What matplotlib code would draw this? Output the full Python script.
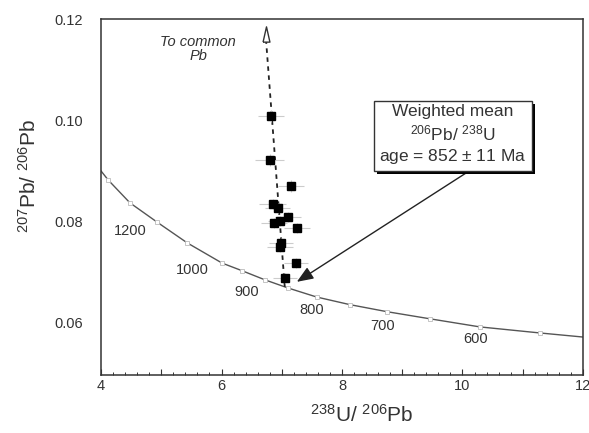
import matplotlib
matplotlib.use("Agg")
import matplotlib.pyplot as plt
import matplotlib.patheffects as pe
from matplotlib.ticker import MultipleLocator, FuncFormatter

plt.rcParams['font.family'] = ['Liberation Sans', 'DejaVu Sans']
plt.rcParams['mathtext.fontset'] = 'custom'
plt.rcParams['mathtext.rm'] = 'Liberation Sans'
plt.rcParams['mathtext.it'] = 'Liberation Sans:italic'

# concordia curve (Tera-Wasserburg)
conc_ages = [1400, 1300, 1200, 1100, 1000, 950, 900, 850, 800, 750, 700, 650, 600, 550]
conc_x = [4.12, 4.48, 4.93, 5.43, 6.01, 6.34, 6.72, 7.10, 7.58, 8.13, 8.75, 9.46, 10.29, 11.29]
conc_y = [0.0882, 0.0837, 0.0799, 0.0758, 0.0718, 0.0703, 0.0685, 0.0669, 0.0651, 0.0636,
          0.0622, 0.0608, 0.0592, 0.0580]
curve_x = [4.0] + conc_x + [12.0]
curve_y = [0.0900] + conc_y + [0.0572]

# age labels on the concordia
age_labels = ['1200', '1000', '900', '800', '700', '600']
age_lab_x = [4.48, 5.51, 6.42, 7.49, 8.68, 10.21]
age_lab_y = [0.0782, 0.0705, 0.0661, 0.0626, 0.0594, 0.0568]

# analyses
pt_x = [6.82, 6.80, 7.15, 6.85, 6.93, 7.10, 6.87, 6.97, 7.25, 6.98, 6.97, 7.23, 7.05]
pt_y = [0.1009, 0.0922, 0.0870, 0.0835, 0.0827, 0.0809, 0.0797, 0.0801, 0.0788,
        0.0758, 0.0750, 0.0718, 0.0689]
pt_xerr = [0.22, 0.24, 0.22, 0.22, 0.20, 0.22, 0.22, 0.20, 0.22, 0.20, 0.22, 0.20, 0.20]
pt_yerr = [0.0012, 0.0012, 0.0012, 0.0010, 0.0010, 0.0010, 0.0010, 0.0010, 0.0010,
           0.0010, 0.0010, 0.0010, 0.0010]

# regression line to common Pb
reg_x = [7.05, 6.74]
reg_y = [0.0671, 0.1157]

fig = plt.figure(figsize=(5.89, 4.33), dpi=100)
ax = fig.add_axes([0.1715, 0.1339, 0.8183, 0.8222])

txt = '#333333'

ax.plot(curve_x, curve_y, color='#555555', lw=1.0, zorder=2)
ax.plot(conc_x, conc_y, ls='none', marker='s', ms=3, mfc='white', mec='#bbbbbb',
        mew=0.6, zorder=3)
for lab, lx, ly in zip(age_labels, age_lab_x, age_lab_y):
    ax.text(lx, ly, lab, ha='center', va='center', fontsize=10.5, color=txt)

ax.plot(reg_x, reg_y, color='#222222', lw=1.3, ls=(0, (2.5, 2.5)), zorder=2)
tri = [(-0.45, -1), (0.45, -1), (0, 1), (-0.45, -1)]
ax.plot([6.74], [0.1170], ls='none', marker=tri, ms=11, mfc='white', mec='#333333',
        mew=1.0, zorder=4)
ax.text(5.61, 0.1141, 'To common\nPb', ha='center', va='center', fontsize=10.5,
        style='italic', color=txt, linespacing=1.0)

ax.errorbar(pt_x, pt_y, xerr=pt_xerr, yerr=pt_yerr, fmt='none', ecolor='#cccccc',
            elinewidth=0.8, capsize=0, zorder=3)
ax.plot(pt_x, pt_y, ls='none', marker='s', ms=5.5, color='black', zorder=5)

box = ax.text(9.84, 0.0971, 'Weighted mean\n$^{206}$Pb/ $^{238}$U\nage = 852 $\\pm$ 11 Ma',
              ha='center', va='center', fontsize=12.5, color=txt, linespacing=1.25,
              bbox=dict(boxstyle='square,pad=0.3', fc='white', ec='#333333', lw=1.0),
              zorder=6)
box.get_bbox_patch().set_path_effects([
    pe.SimplePatchShadow(offset=(2.5, -2.5), shadow_rgbFace='black', alpha=1.0),
    pe.Normal()])

ax.annotate('', xy=(7.25, 0.0681), xytext=(10.06, 0.0896),
            arrowprops=dict(arrowstyle='-|>,head_length=1.0,head_width=0.4',
                            color='#222222', lw=1.0, shrinkA=0, shrinkB=0),
            zorder=5)

ax.set_xlim(4, 12)
ax.set_ylim(0.0497, 0.12)
ax.xaxis.set_major_locator(MultipleLocator(1))
ax.xaxis.set_minor_locator(MultipleLocator(0.2))
ax.xaxis.set_major_formatter(FuncFormatter(lambda v, p: '%d' % v if int(round(v)) % 2 == 0 else ''))
ax.set_yticks([0.06, 0.08, 0.10, 0.12])
ax.yaxis.set_major_formatter(FuncFormatter(lambda v, p: '%.2f' % v))
ax.tick_params(axis='x', which='major', direction='in', length=4.5, width=0.8,
               labelsize=10.5, labelcolor=txt, color='#333333', pad=3)
ax.tick_params(axis='x', which='minor', direction='in', length=2.2, width=0.7,
               color='#333333')
ax.tick_params(axis='y', which='both', length=0, labelsize=10.5, labelcolor=txt, pad=13)
for s in ax.spines.values():
    s.set_color('#333333')
    s.set_linewidth(1.1)

ax.set_xlabel('$^{238}$U/ $^{206}$Pb', fontsize=15, color=txt)
ax.xaxis.set_label_coords(0.541, -0.082)
ax.set_ylabel('$^{207}$Pb/ $^{206}$Pb', fontsize=15, color=txt)
ax.yaxis.set_label_coords(-0.128, 0.559)

fig.savefig('out.png', dpi=100)
